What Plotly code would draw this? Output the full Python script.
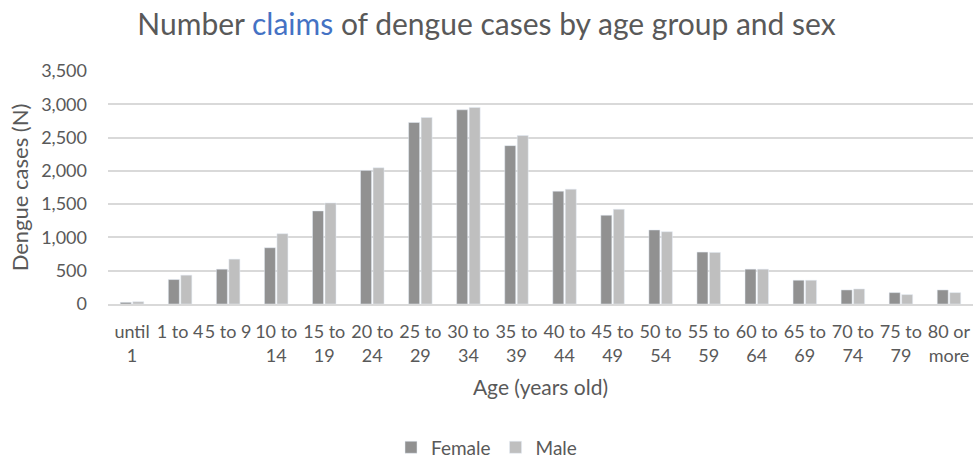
import plotly.graph_objects as go

age_groups = ["until<br>1", "1 to 4", "5 to 9", "10 to<br>14", "15 to<br>19", "20 to<br>24",
              "25 to<br>29", "30 to<br>34", "35 to<br>39", "40 to<br>44", "45 to<br>49",
              "50 to<br>54", "55 to<br>59", "60 to<br>64", "65 to<br>69", "70 to<br>74",
              "75 to<br>79", "80 or<br>more"]
female = [25, 367, 523, 845, 1398, 2007, 2726, 2917, 2379, 1695, 1333, 1112, 780, 523, 357, 211, 171, 211]
male = [35, 433, 674, 1056, 1519, 2047, 2802, 2953, 2530, 1725, 1423, 1086, 775, 523, 357, 226, 141, 171]
y_ticks = [0, 500, 1000, 1500, 2000, 2500, 3000, 3500]

FONT = "Lato, 'Open Sans', sans-serif"
TXT = "#595959"

fig = go.Figure()
fig.add_trace(go.Bar(name="Female", x=age_groups, y=female, marker_color="#919191"))
fig.add_trace(go.Bar(name="Male", x=age_groups, y=male, marker_color="#bfbfbf"))

fig.update_layout(
    width=973, height=457,
    paper_bgcolor="white", plot_bgcolor="white",
    margin=dict(l=108, r=0, t=71, b=153, autoexpand=False),
    barmode="group", bargap=0.48, bargroupgap=0.12,
    font=dict(family=FONT, color=TXT, size=18),
    title=dict(
        text="Number <span style='color:#4472C4'>claims</span> of dengue cases by age group and sex",
        x=0.5, xanchor="center", xref="container", y=0.946, yanchor="middle", yref="container",
        font=dict(size=30, color=TXT, family=FONT),
    ),
    legend=dict(orientation="h", x=0.5, xanchor="center", xref="container",
                y=0.021, yanchor="middle", yref="container",
                font=dict(size=19, color=TXT), traceorder="normal", itemwidth=30),
    showlegend=True,
)
fig.update_xaxes(
    showline=True, linecolor="#d9d9d9", linewidth=1.5, tickangle=0,
    tickfont=dict(size=18, color=TXT), ticklabelstandoff=11, automargin=False,
    title=dict(text="Age (years old)", font=dict(size=21, color=TXT), standoff=16),
)
fig.update_yaxes(
    range=[0, 3500], tickvals=y_ticks, tickformat=",", showgrid=True,
    gridcolor="#d9d9d9", gridwidth=1.5, zeroline=False, automargin=False,
    tickfont=dict(size=18, color=TXT), ticks="", ticklabelstandoff=20,
    title=dict(text="Dengue cases (N)", font=dict(size=22, color=TXT), standoff=6),
)

# remove the browser's default page margin so the figure fills the window exactly
fig.write_html("out.html",
               config={"displayModeBar": False},
               post_script="document.body.style.margin='0';document.body.style.overflow='hidden';")
